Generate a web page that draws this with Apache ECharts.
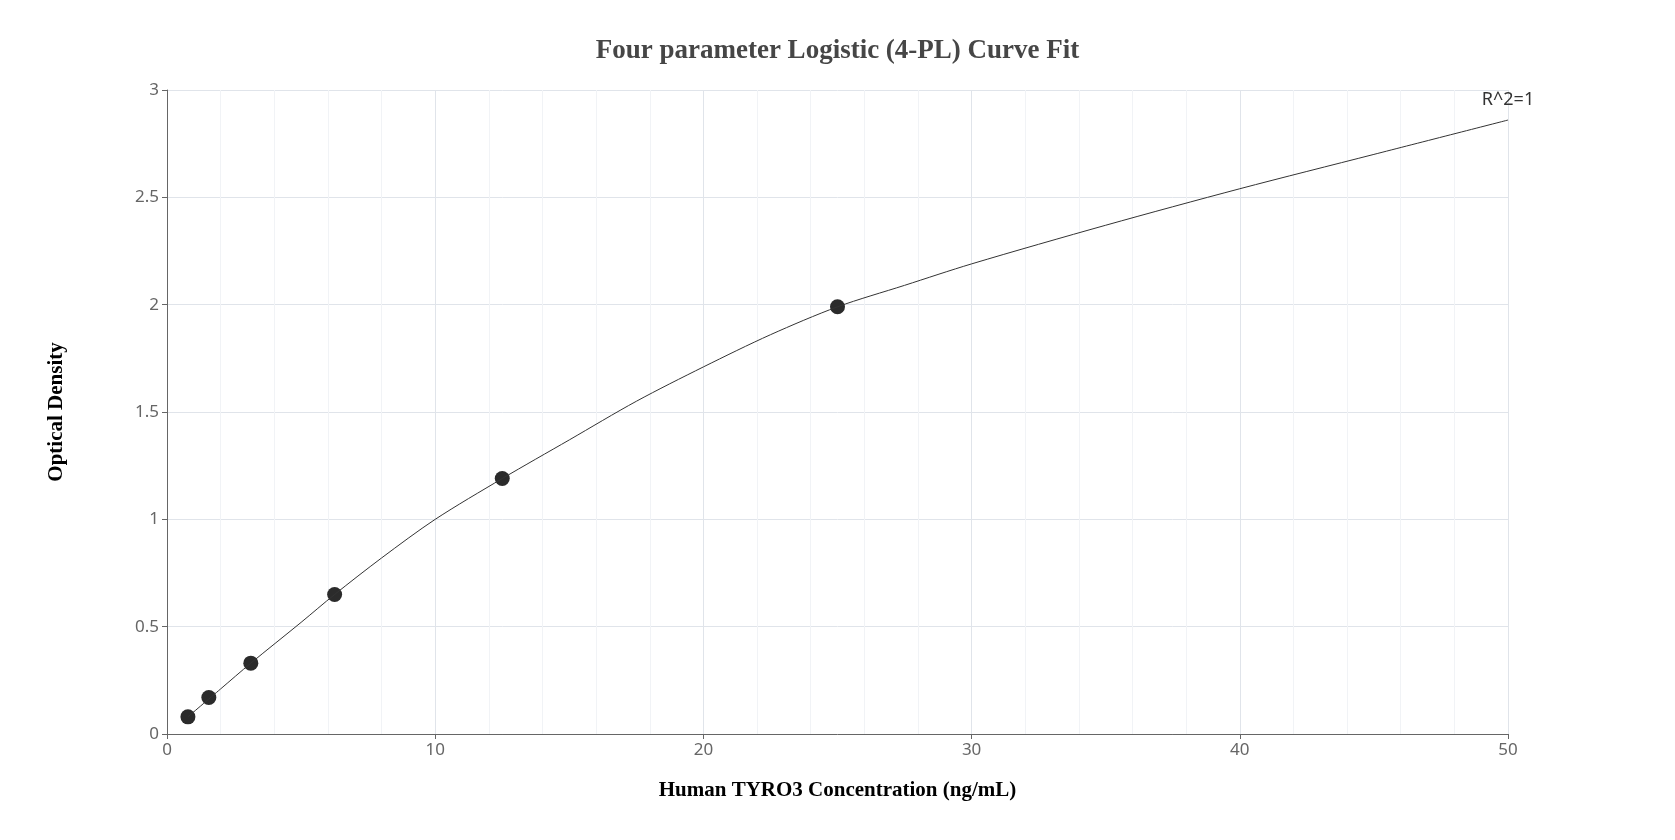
<!DOCTYPE html>
<html>
<head>
<meta charset="utf-8">
<script src="https://cdn.jsdelivr.net/npm/echarts@6/dist/echarts.min.js"></script>
<style>html,body{margin:0;background:#fff}#main{width:1675px;height:840px}</style>
</head>
<body>
<div id="main"></div>
<script>
const myChart = echarts.init(document.querySelector('#main'))
// standards
const standardX = [0.78, 1.56, 3.125, 6.25, 12.5, 25]
const standardY = [0.08, 0.17, 0.33, 0.65, 1.19, 1.99]
// fitted curve
const curveX = [0.78, 2, 3.125, 5, 6.25, 8, 10, 12.5, 15, 17.5, 20, 22.5, 25, 27.5, 30, 35, 40, 45, 50]
const curveY = [0.08, 0.21, 0.33, 0.52, 0.65, 0.82, 1.0, 1.19, 1.37, 1.55, 1.71, 1.86, 1.99, 2.09, 2.19, 2.37, 2.54, 2.70, 2.86]

const option = {
  animation: false,
  title: {
    text: 'Four parameter Logistic (4-PL) Curve Fit',
    left: 'center',
    top: 33,
    textStyle: { fontFamily: 'Liberation Serif', fontSize: 27, fontWeight: 'bold', color: '#464646' }
  },
  grid: { left: 167, right: 167, top: 90, bottom: 106 },
  xAxis: {
    type: 'value', min: 0, max: 50, interval: 10,
    name: 'Human TYRO3 Concentration (ng/mL)',
    nameLocation: 'middle', nameGap: 46,
    nameTextStyle: { fontFamily: 'Liberation Serif', fontSize: 21, fontWeight: 'bold', color: '#000' },
    axisLine: { lineStyle: { color: '#666' } },
    axisTick: { show: true, lineStyle: { color: '#666' } },
    axisLabel: { color: '#666', fontSize: 17, fontFamily: 'Noto Sans' },
    splitLine: { show: true, lineStyle: { color: '#e0e4ea' } },
    minorTick: { show: false, splitNumber: 5 },
    minorSplitLine: { show: true, lineStyle: { color: '#f1f3f6' } }
  },
  yAxis: {
    type: 'value', min: 0, max: 3, interval: 0.5,
    name: 'Optical Density',
    nameLocation: 'middle', nameGap: 100, nameRotate: 90,
    nameTextStyle: { fontFamily: 'Liberation Serif', fontSize: 21, fontWeight: 'bold', color: '#000' },
    axisLine: { show: true, lineStyle: { color: '#666' } },
    axisTick: { show: true, lineStyle: { color: '#666' } },
    axisLabel: { color: '#666', fontSize: 17, fontFamily: 'Noto Sans' },
    splitLine: { show: true, lineStyle: { color: '#e0e4ea' } }
  },
  series: [
    {
      type: 'line',
      data: curveX.map((x, i) => [x, curveY[i]]),
      smooth: 0.3,
      symbol: 'none',
      lineStyle: { color: '#333', width: 1 },
      markPoint: {
        symbol: 'rect', symbolSize: 1,
        itemStyle: { color: 'transparent' },
        label: { show: true, formatter: 'R^2=1', color: '#333', fontSize: 18, fontFamily: 'Noto Sans', position: 'top', offset: [0, -6] },
        data: [{ coord: [50, 2.86] }]
      }
    },
    {
      type: 'scatter',
      data: standardX.map((x, i) => [x, standardY[i]]),
      symbolSize: 15,
      itemStyle: { color: '#2b2b2b', opacity: 1 }
    }
  ]
};
option && myChart.setOption(option);
</script>
</body>
</html>
